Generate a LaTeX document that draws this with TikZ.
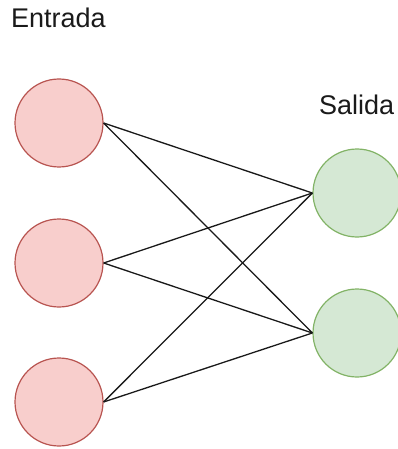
\documentclass[tikz,border=0pt]{standalone}
\usepackage{fontspec}
\setmainfont{Liberation Sans}
\definecolor{inFill}{HTML}{F8CECC}
\definecolor{inLine}{HTML}{B85450}
\definecolor{outFill}{HTML}{D5E8D4}
\definecolor{outLine}{HTML}{82B366}
\definecolor{txt}{HTML}{1A1A1A}
\tikzset{
  innode/.style={circle, draw=inLine, fill=inFill, line width=1.2pt, minimum size=88pt, inner sep=0pt},
  outnode/.style={circle, draw=outLine, fill=outFill, line width=1.2pt, minimum size=88pt, inner sep=0pt},
  label/.style={text=txt, inner sep=0pt, font=\fontsize{27}{32}\selectfont},
  conn/.style={draw=black!90, line width=1.3pt}
}
\begin{document}
\begin{tikzpicture}[x=1pt,y=-1pt]
\useasboundingbox (0,0) rectangle (398,449);
\node[label, anchor=base west] (entrada) at (11,28) {Entrada};
\node[label, anchor=base west] (salida) at (319,115) {Salida};
\node[innode] (i1) at (59,123) {};
\node[innode] (i2) at (59,263) {};
\node[innode] (i3) at (59,402) {};
\node[outnode] (o1) at (357,193) {};
\node[outnode] (o2) at (357,333) {};
\foreach \i in {i1,i2,i3}{
  \foreach \o in {o1,o2}{
    \draw[conn] (\i.east) -- (\o.west);
  }
}
\end{tikzpicture}
\end{document}
